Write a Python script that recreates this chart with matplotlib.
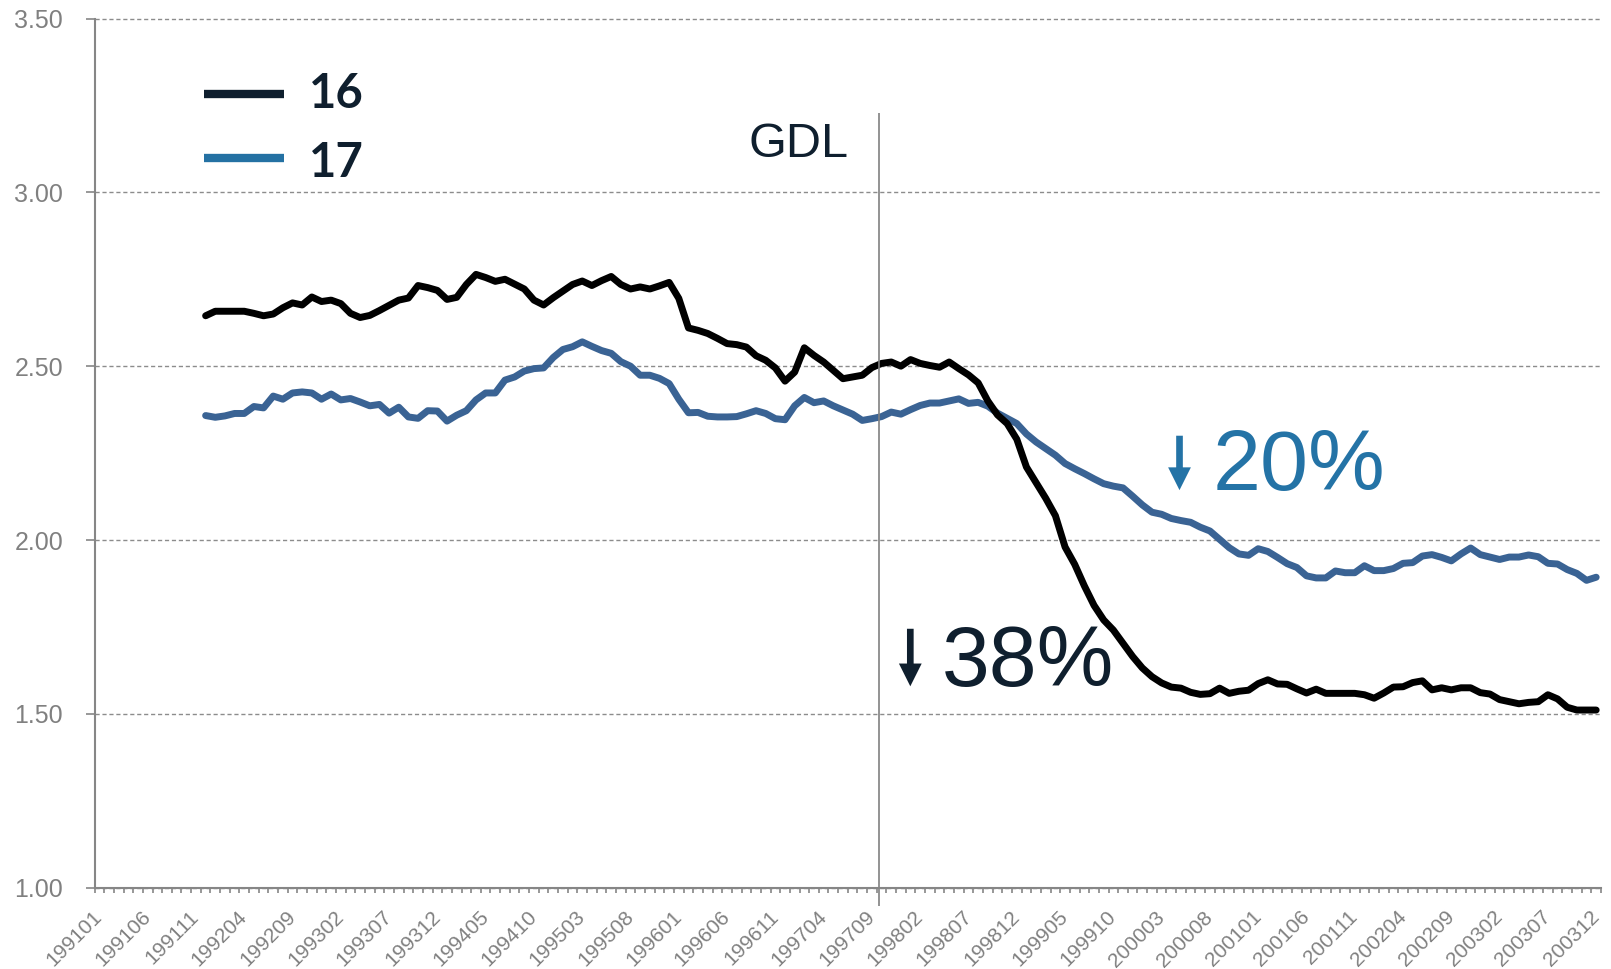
import matplotlib.pyplot as plt
from matplotlib.ticker import FixedLocator

# monthly categories 199101 .. 200312
months = [f"{y}{m:02d}" for y in range(1991, 2004) for m in range(1, 13)]
start_month = "199112"
gdl_month = "199709"

# age 16 series, 199112 .. 200312 (one row per year)
age16 = (
    [2.645]
    + [2.658, 2.658, 2.658, 2.658, 2.652, 2.645, 2.650, 2.668, 2.682, 2.676, 2.699, 2.686]
    + [2.690, 2.680, 2.652, 2.640, 2.646, 2.660, 2.675, 2.690, 2.696, 2.732, 2.726, 2.718]
    + [2.692, 2.698, 2.735, 2.764, 2.755, 2.744, 2.750, 2.736, 2.722, 2.690, 2.676, 2.697]
    + [2.716, 2.735, 2.745, 2.732, 2.746, 2.758, 2.735, 2.722, 2.728, 2.722, 2.731, 2.741]
    + [2.695, 2.610, 2.603, 2.594, 2.580, 2.565, 2.562, 2.555, 2.530, 2.517, 2.495, 2.457]
    + [2.483, 2.553, 2.531, 2.512, 2.488, 2.464, 2.469, 2.474, 2.496, 2.508, 2.512, 2.500]
    + [2.519, 2.508, 2.502, 2.497, 2.512, 2.493, 2.475, 2.452, 2.400, 2.360, 2.335, 2.290]
    + [2.210, 2.165, 2.120, 2.070, 1.980, 1.930, 1.868, 1.812, 1.770, 1.741, 1.703, 1.665]
    + [1.632, 1.607, 1.589, 1.577, 1.574, 1.562, 1.556, 1.558, 1.574, 1.559, 1.565, 1.568]
    + [1.587, 1.598, 1.586, 1.585, 1.572, 1.560, 1.571, 1.559, 1.559, 1.559, 1.559, 1.555]
    + [1.545, 1.560, 1.577, 1.578, 1.590, 1.595, 1.569, 1.575, 1.569, 1.575, 1.575, 1.561]
    + [1.557, 1.541, 1.535, 1.529, 1.533, 1.535, 1.555, 1.543, 1.519, 1.511, 1.511, 1.511]
)

# age 17 series, same months
age17 = (
    [2.358]
    + [2.353, 2.357, 2.364, 2.364, 2.384, 2.380, 2.414, 2.405, 2.423, 2.426, 2.423, 2.405]
    + [2.420, 2.403, 2.407, 2.397, 2.386, 2.390, 2.365, 2.382, 2.354, 2.350, 2.372, 2.371]
    + [2.342, 2.359, 2.372, 2.403, 2.423, 2.423, 2.460, 2.469, 2.486, 2.493, 2.495, 2.525]
    + [2.548, 2.556, 2.570, 2.557, 2.545, 2.537, 2.513, 2.500, 2.474, 2.474, 2.465, 2.450]
    + [2.405, 2.366, 2.367, 2.356, 2.354, 2.354, 2.355, 2.363, 2.372, 2.364, 2.349, 2.346]
    + [2.386, 2.410, 2.395, 2.400, 2.386, 2.374, 2.362, 2.344, 2.349, 2.355, 2.368, 2.362]
    + [2.375, 2.387, 2.394, 2.394, 2.400, 2.406, 2.393, 2.396, 2.385, 2.365, 2.350, 2.335]
    + [2.305, 2.282, 2.263, 2.244, 2.220, 2.205, 2.191, 2.176, 2.162, 2.155, 2.150, 2.126]
    + [2.101, 2.080, 2.074, 2.062, 2.056, 2.051, 2.037, 2.026, 2.002, 1.978, 1.960, 1.956]
    + [1.975, 1.967, 1.950, 1.932, 1.921, 1.897, 1.891, 1.891, 1.911, 1.906, 1.906, 1.926]
    + [1.912, 1.912, 1.918, 1.933, 1.935, 1.954, 1.958, 1.950, 1.940, 1.960, 1.977, 1.958]
    + [1.951, 1.944, 1.951, 1.951, 1.957, 1.952, 1.933, 1.931, 1.915, 1.904, 1.884, 1.893]
)

y_ticks = [1.0, 1.5, 2.0, 2.5, 3.0, 3.5]
label_every = 5
legend_labels = ["16", "17"]
drop_labels = ["38%", "20%"]

GREY = "#868686"
NAVY = "#0f1f2e"
BLUE_TXT = "#2473a6"
BLUE_LINE = "#3a6394"
FONT = "Liberation Sans"

fig = plt.figure(figsize=(16.11, 9.69), dpi=100)
ax = fig.add_axes([0.0587, 0.0839, 0.9351, 0.8970])

x = list(range(months.index(start_month), len(months)))
ax.plot(x, age17, color=BLUE_LINE, lw=5, solid_joinstyle="round", solid_capstyle="round")
ax.plot(x, age16, color="black", lw=5, solid_joinstyle="round", solid_capstyle="round")

ax.set_xlim(-0.5, len(months) - 0.5)
ax.set_ylim(y_ticks[0], y_ticks[-1])

# x axis: labels on every 5th month, tick marks between months
ax.set_xticks(range(0, len(months), label_every))
ax.set_xticklabels(
    months[::label_every],
    rotation=45,
    ha="right",
    va="center",
    rotation_mode="anchor",
    fontsize=15,
    color="#808080",
    family=FONT,
)
ax.xaxis.set_minor_locator(FixedLocator([i - 0.5 for i in range(len(months) + 1)]))
ax.tick_params(axis="x", which="major", length=0, pad=19)
ax.tick_params(axis="x", which="minor", length=3.6, width=1.2, color=GREY, direction="out")

# y axis
ax.set_yticks(y_ticks)
ax.set_yticklabels([f"{v:.2f}" for v in y_ticks], fontsize=18, color="#808080", family=FONT)
ax.tick_params(axis="y", length=6.7, width=1.2, color=GREY, pad=16)
ax.yaxis.grid(True, linestyle=(0, (3, 2)), color="#8c8c8c", lw=1.0)
for t in ax.yaxis.get_major_ticks():
    t.gridline.set_clip_on(False)
ax.set_axisbelow(True)

for side in ["top", "right"]:
    ax.spines[side].set_visible(False)
for side in ["left", "bottom"]:
    ax.spines[side].set_color(GREY)
    ax.spines[side].set_linewidth(1.5)

# GDL marker line
gdl_x = months.index(gdl_month) + 0.7
ax.vlines(gdl_x, 0.947, 3.228, colors="#808080", lw=1.2, clip_on=False)
ax.text(0.4676, 0.8404, "GDL", transform=ax.transAxes, ha="center", va="baseline",
        fontsize=35, color=NAVY, family=FONT)

# drop annotations
arrow_style = "simple,head_length=0.82,head_width=0.82,tail_width=0.24"
for ax_x, top, bottom, txt_x, label, col in [
    (0.5415, 0.2979, 0.2317, 0.5624, drop_labels[0], NAVY),
    (0.7202, 0.5200, 0.4574, 0.7420, drop_labels[1], BLUE_TXT),
]:
    ax.annotate("", xy=(ax_x, bottom), xytext=(ax_x, top), xycoords="axes fraction",
                arrowprops=dict(arrowstyle=arrow_style, mutation_scale=20, color=col,
                                lw=0, shrinkA=0, shrinkB=0))
    ax.text(txt_x, bottom, label, transform=ax.transAxes, ha="left", va="baseline",
            fontsize=62, color=col, family=FONT)

# hand made legend
for y_line, y_txt, label, col in [
    (0.9128, 0.8968, legend_labels[0], NAVY),
    (0.8393, 0.8180, legend_labels[1], "#2471a3"),
]:
    ax.plot([0.0727, 0.1258], [y_line, y_line], transform=ax.transAxes, color=col,
            lw=6, solid_capstyle="butt", clip_on=False)
    ax.text(0.1424, y_txt, label, transform=ax.transAxes, ha="left", va="baseline",
            fontsize=34, fontweight="bold", color=NAVY, family="Lato")

fig.savefig("out.png", dpi=100)
